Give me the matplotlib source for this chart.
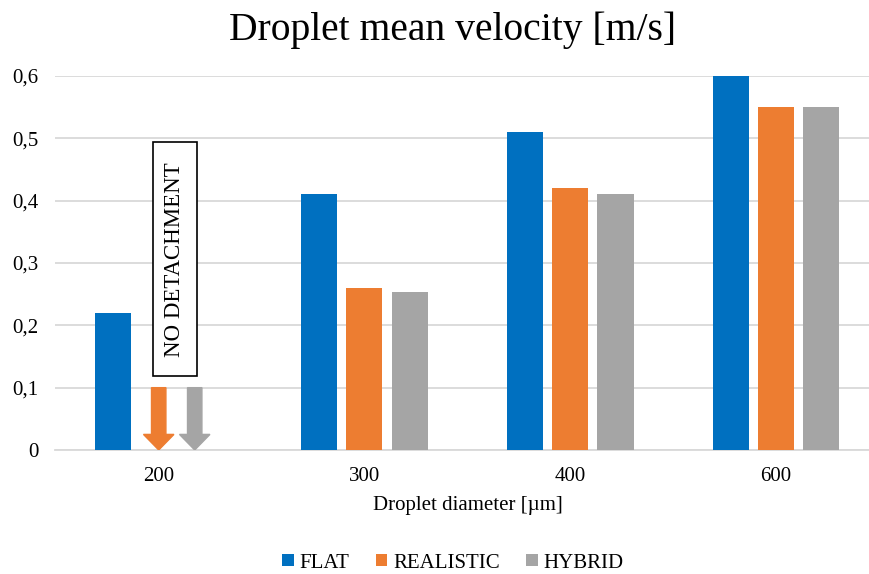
import numpy as np
import matplotlib.pyplot as plt
from matplotlib.patches import Rectangle

# ------------------------------------------------------------------------------
# data

diameters = ['200', '300', '400', '600']
flat = [0.22, 0.41, 0.51, 0.60]
realistic = [np.nan, 0.26, 0.42, 0.55]
hybrid = [np.nan, 0.254, 0.41, 0.55]
yticks = [0, 0.1, 0.2, 0.3, 0.4, 0.5, 0.6]
ytick_labels = ['0', '0,1', '0,2', '0,3', '0,4', '0,5', '0,6']

# no detachment for 200 um: arrows start at this level
arrow_start = 0.1

c_flat = '#0070C0'
c_real = '#ED7D31'
c_hyb = '#A5A5A5'
c_grid = '#D9D9D9'

plt.rcParams['font.family'] = ['Liberation Serif', 'DejaVu Serif']

# ------------------------------------------------------------------------------

fig = plt.figure(figsize=(8.69, 5.74), dpi=100)
ax = fig.add_axes([55/869, 1-450/574, 1-55/869, (450-76)/574])

x = np.arange(len(diameters))
w = 0.175
off = 0.22

ax.bar(x-off, flat, w, color=c_flat, label='FLAT', zorder=3)
ax.bar(x, realistic, w, color=c_real, label='REALISTIC', zorder=3)
ax.bar(x+off, hybrid, w, color=c_hyb, label='HYBRID', zorder=3)

# arrows for the 200 um case
for xa, col in [(x[0], c_real), (x[0]+0.175, c_hyb)]:
    ax.arrow(xa, arrow_start, 0, -arrow_start, width=0.07, head_width=0.148,
             head_length=0.025, length_includes_head=True, color=col, zorder=3)

# label box
ax.add_patch(Rectangle((x[0]-0.028, 0.119), 0.214, 0.375, fc='white', ec='black',
                       lw=1.2, zorder=4))
ax.text(x[0]+0.079, 0.306, 'NO DETACHMENT', rotation=90, ha='center', va='center',
        fontsize=16.5, zorder=5)

ax.set_xlim(-0.504, 3.452)
ax.set_ylim(0, 0.6)
ax.set_yticks(yticks)
ax.set_yticklabels(ytick_labels)
ax.set_xticks(x)
ax.set_xticklabels(diameters)
ax.yaxis.grid(True, color=c_grid, lw=1.3, zorder=0)
ax.set_axisbelow(True)
for axis in ['top', 'right', 'left']:
    ax.spines[axis].set_visible(False)
ax.spines['bottom'].set_color(c_grid)
ax.spines['bottom'].set_linewidth(1.3)
ax.tick_params(axis='both', length=0, labelsize=15)
ax.tick_params(axis='y', pad=12)
ax.tick_params(axis='x', pad=12)

ax.set_xlabel('Droplet diameter [µm]', fontsize=15)
ax.xaxis.set_label_coords(0.507, -0.123)
fig.text(453/869, 1-30/574, 'Droplet mean velocity [m/s]', ha='center', va='center',
         fontsize=28.5)

fig.legend(loc='center', bbox_to_anchor=(453/869, 1-563/574), ncol=3, frameon=False,
           fontsize=15, handlelength=0.55, handleheight=0.55, handletextpad=0.3,
           columnspacing=1.25)

fig.savefig('out.png', dpi=100)
